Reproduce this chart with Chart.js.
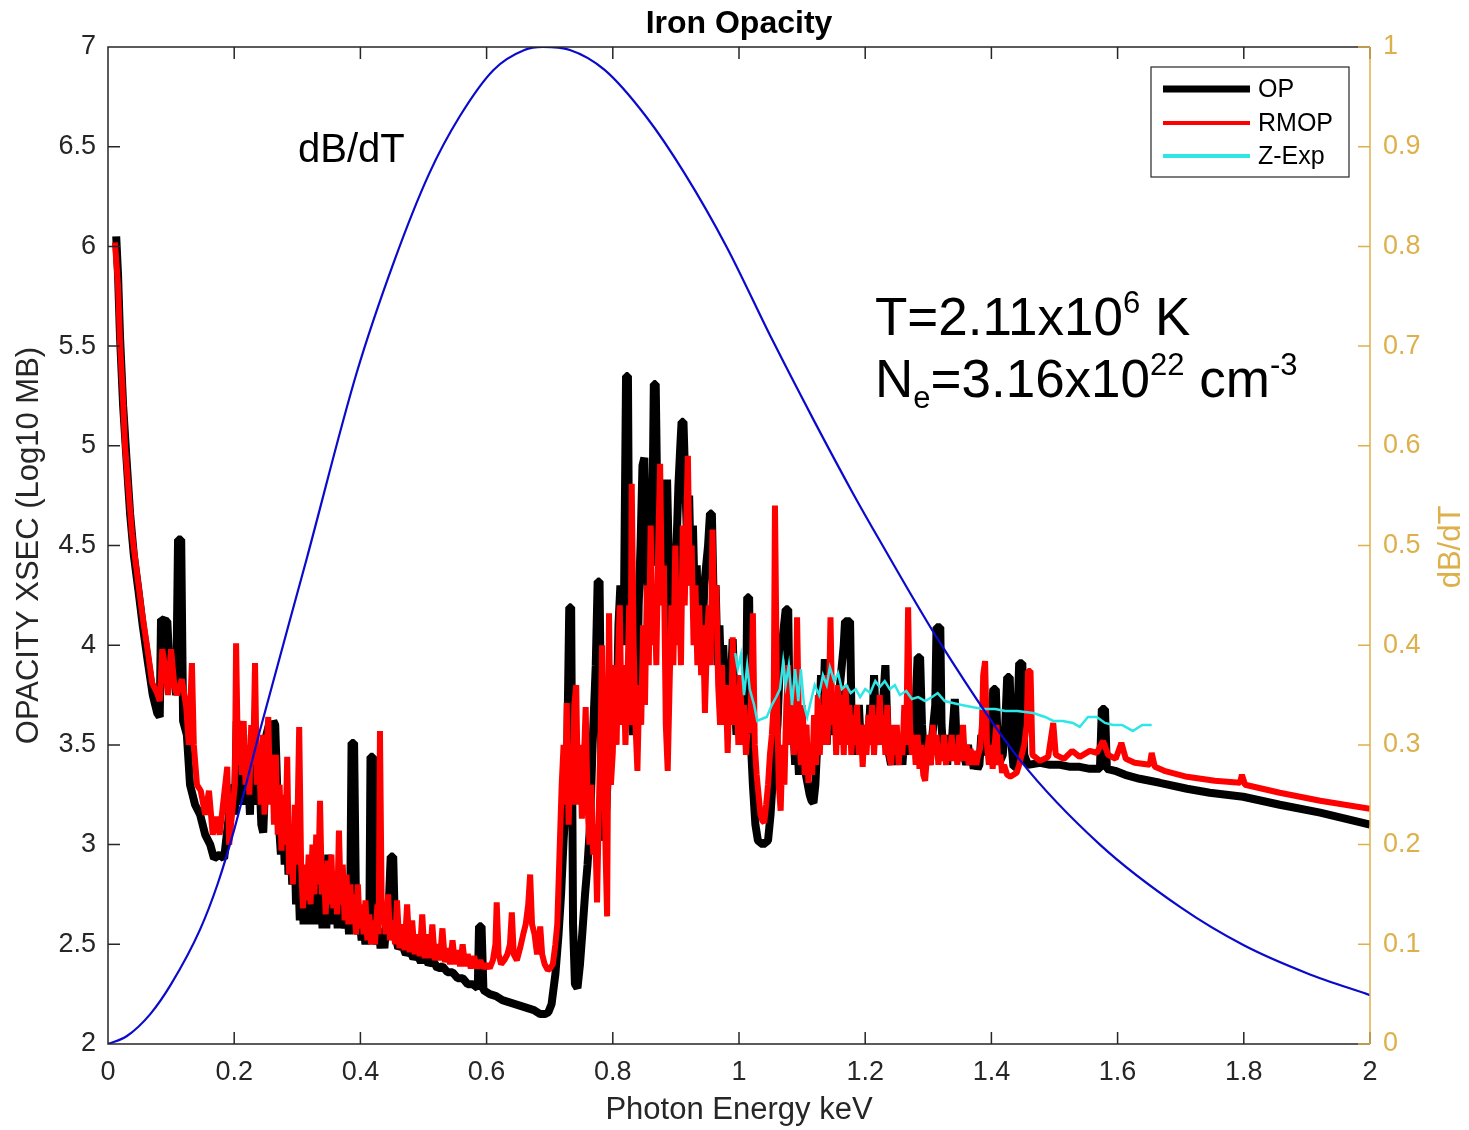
<!DOCTYPE html>
<html>
<head>
<meta charset="utf-8">
<script src="https://cdn.jsdelivr.net/npm/chart.js@4.4.1/dist/chart.umd.min.js"></script>
<style>
  html, body { margin: 0; padding: 0; background: #fff; }
  #wrap { width: 1469px; height: 1130px; position: relative; }
</style>
</head>
<body>
<div id="wrap"><canvas id="opacityChart"></canvas></div>
<script>
const FONT = '"Liberation Sans", Arial, Helvetica, sans-serif';
const GOLD = '#DDB04C';
const INK  = '#262626';

// [photon energy keV, log10 opacity]
const opData = [
  [0.013,6.05],[0.016,5.85],[0.019,5.55],[0.024,5.2],[0.029,4.95],[0.035,4.66],[0.041,4.45],[0.048,4.28],
  [0.055,4.10],[0.063,3.92],[0.071,3.75],[0.078,3.66],[0.082,3.64],[0.084,4.13],[0.094,4.12],[0.098,3.85],
  [0.103,3.90],[0.108,3.75],[0.111,4.53],[0.116,4.53],[0.119,3.62],[0.125,3.55],[0.130,3.30],[0.138,3.2],
  [0.146,3.15],[0.154,3.05],[0.162,3.0],[0.168,2.93],[0.177,2.95],[0.184,2.93],[0.190,3.1],[0.197,3.3],
  [0.201,3.15],[0.204,3.62],[0.207,3.3],[0.210,3.4],[0.213,3.2],[0.216,3.45],[0.219,3.2],[0.222,3.35],
  [0.225,3.15],[0.228,3.55],[0.231,3.3],[0.234,3.45],[0.237,3.2],[0.240,3.35],[0.243,3.1],[0.246,3.06],
  [0.249,3.3],[0.251,3.55],[0.255,3.6],[0.258,3.4],[0.262,3.62],[0.265,3.6],[0.268,3.3],[0.271,3.1],
  [0.274,2.95],[0.277,3.15],[0.280,2.9],[0.283,3.15],[0.286,2.85],[0.289,3.05],[0.292,2.8],[0.295,3.1],
  [0.298,2.7],[0.301,2.9],[0.304,2.62],[0.307,2.8],[0.310,2.6],[0.313,2.8],[0.316,2.6],[0.319,2.85],
  [0.322,2.6],[0.325,2.9],[0.328,2.62],[0.331,2.8],[0.334,2.6],[0.337,2.75],[0.340,2.58],[0.343,2.8],
  [0.346,2.58],[0.349,2.95],[0.352,2.65],[0.355,2.8],[0.358,2.6],[0.361,2.75],[0.364,2.58],[0.367,2.75],
  [0.370,2.6],[0.373,2.7],[0.376,2.58],[0.379,2.7],[0.382,2.55],[0.384,2.75],[0.386,3.51],[0.390,3.51],
  [0.393,2.7],[0.396,2.55],[0.399,2.62],[0.402,2.52],[0.405,2.6],[0.408,2.5],[0.411,2.58],[0.414,2.5],
  [0.416,3.44],[0.420,3.44],[0.423,2.6],[0.426,2.5],[0.429,2.58],[0.432,2.48],[0.435,2.55],[0.438,2.48],
  [0.441,2.6],[0.445,2.7],[0.448,2.94],[0.452,2.94],[0.455,2.55],[0.460,2.48],[0.466,2.5],[0.472,2.45],
  [0.478,2.47],[0.484,2.43],[0.490,2.45],[0.496,2.41],[0.502,2.45],[0.508,2.4],[0.515,2.42],[0.522,2.38],
  [0.530,2.39],[0.538,2.36],[0.546,2.36],[0.554,2.33],[0.562,2.33],[0.570,2.3],[0.578,2.3],[0.586,2.28],
  [0.588,2.59],[0.592,2.59],[0.595,2.27],[0.605,2.25],[0.615,2.24],[0.625,2.22],[0.635,2.21],[0.645,2.2],
  [0.655,2.19],[0.665,2.18],[0.675,2.17],[0.685,2.15],[0.692,2.15],[0.698,2.16],[0.703,2.2],[0.709,2.35],
  [0.714,2.55],[0.718,2.75],[0.722,3.02],[0.727,3.3],[0.731,4.19],[0.734,4.19],[0.737,2.6],[0.740,2.3],
  [0.744,2.28],[0.748,2.4],[0.752,2.57],[0.756,2.75],[0.760,2.9],[0.764,3.1],[0.768,3.5],[0.773,3.9],
  [0.776,4.32],[0.779,4.32],[0.782,3.4],[0.786,3.02],[0.790,3.2],[0.794,3.5],[0.797,3.85],[0.800,3.6],
  [0.803,3.85],[0.806,3.6],[0.809,4.1],[0.812,4.3],[0.815,4.0],[0.818,4.3],[0.821,5.35],[0.824,5.35],
  [0.826,4.3],[0.829,3.7],[0.832,3.55],[0.835,3.65],[0.838,3.55],[0.841,4.2],[0.844,4.5],[0.847,4.9],
  [0.850,4.94],[0.853,4.5],[0.856,4.2],[0.859,4.6],[0.862,4.4],[0.865,5.31],[0.868,5.31],[0.871,4.6],
  [0.874,4.4],[0.877,4.6],[0.880,4.3],[0.883,4.7],[0.886,4.83],[0.889,4.4],[0.892,4.0],[0.895,4.3],
  [0.898,4.1],[0.901,4.5],[0.904,4.8],[0.907,5.0],[0.909,5.12],[0.912,5.12],[0.915,4.8],[0.918,4.5],
  [0.921,4.75],[0.924,4.3],[0.927,4.6],[0.930,4.2],[0.933,4.4],[0.936,4.0],[0.939,4.3],[0.942,4.0],
  [0.945,4.3],[0.948,4.4],[0.951,4.5],[0.954,4.66],[0.957,4.66],[0.960,4.2],[0.963,4.3],[0.966,3.9],
  [0.969,4.1],[0.972,3.8],[0.975,4.0],[0.978,3.75],[0.981,3.9],[0.984,3.7],[0.987,3.8],[0.990,4.03],
  [0.993,3.75],[0.996,3.55],[0.999,3.7],[1.002,3.75],[1.005,3.55],[1.008,3.7],[1.011,3.6],[1.013,4.24],
  [1.016,4.24],[1.019,3.5],[1.022,3.3],[1.026,3.1],[1.030,3.02],[1.038,3.0],[1.046,3.02],[1.050,3.15],
  [1.054,3.35],[1.058,3.5],[1.061,3.6],[1.064,3.85],[1.068,4.0],[1.074,4.18],[1.078,4.18],[1.080,3.7],
  [1.083,3.5],[1.086,3.6],[1.089,3.4],[1.092,3.55],[1.095,3.35],[1.098,3.5],[1.100,3.45],[1.103,3.6],
  [1.106,3.35],[1.109,3.3],[1.112,3.25],[1.115,3.22],[1.118,3.21],[1.121,3.3],[1.124,3.5],[1.127,3.6],
  [1.130,3.85],[1.133,3.6],[1.136,3.93],[1.139,3.5],[1.142,3.75],[1.145,3.6],[1.148,3.75],[1.151,3.55],
  [1.154,3.7],[1.157,3.5],[1.160,3.8],[1.163,3.9],[1.166,4.0],[1.168,4.12],[1.176,4.12],[1.178,3.7],
  [1.181,3.5],[1.184,3.6],[1.187,3.45],[1.190,3.7],[1.193,3.5],[1.196,3.6],[1.199,3.45],[1.202,3.6],
  [1.205,3.5],[1.208,3.7],[1.211,3.5],[1.214,3.85],[1.217,3.6],[1.220,3.5],[1.223,3.7],[1.226,3.5],
  [1.229,3.75],[1.232,3.9],[1.235,3.6],[1.238,3.45],[1.241,3.4],[1.244,3.5],[1.247,3.4],[1.250,3.55],
  [1.253,3.45],[1.256,3.5],[1.259,3.4],[1.262,3.55],[1.265,3.45],[1.268,3.62],[1.271,3.5],[1.274,3.6],
  [1.277,3.45],[1.280,3.7],[1.283,3.94],[1.287,3.94],[1.290,3.6],[1.293,3.45],[1.296,3.4],[1.299,3.45],
  [1.302,3.4],[1.305,3.5],[1.308,3.6],[1.311,3.7],[1.313,4.09],[1.319,4.09],[1.321,3.6],[1.324,3.45],
  [1.327,3.5],[1.330,3.4],[1.333,3.55],[1.336,3.45],[1.339,3.6],[1.342,3.73],[1.345,3.5],[1.348,3.45],
  [1.351,3.5],[1.354,3.42],[1.357,3.45],[1.360,3.4],[1.363,3.5],[1.366,3.4],[1.369,3.45],[1.372,3.38],
  [1.375,3.42],[1.378,3.38],[1.381,3.4],[1.384,3.55],[1.387,3.5],[1.390,3.45],[1.395,3.5],[1.400,3.6],
  [1.403,3.78],[1.407,3.78],[1.410,3.5],[1.414,3.42],[1.418,3.45],[1.422,3.6],[1.425,3.84],[1.429,3.84],
  [1.432,3.5],[1.435,3.39],[1.438,3.39],[1.441,3.6],[1.444,3.91],[1.449,3.91],[1.452,3.45],[1.458,3.4],
  [1.477,3.41],[1.493,3.4],[1.509,3.4],[1.525,3.39],[1.540,3.39],[1.556,3.38],[1.572,3.38],[1.575,3.68],
  [1.580,3.68],[1.583,3.38],[1.596,3.37],[1.612,3.35],[1.635,3.33],[1.667,3.31],[1.710,3.28],[1.746,3.26],
  [1.799,3.24],[1.857,3.20],[1.921,3.16],[2.0,3.10]
];

const rmopData = [
  [0.011,6.02],[0.016,5.8],[0.019,5.52],[0.024,5.22],[0.027,5.0],[0.032,4.8],[0.038,4.56],[0.048,4.31],
  [0.055,4.14],[0.063,3.97],[0.070,3.81],[0.078,3.76],[0.082,3.72],[0.086,3.98],[0.090,3.9],[0.095,3.75],
  [0.100,3.98],[0.105,3.8],[0.109,3.75],[0.117,3.83],[0.124,3.69],[0.128,3.5],[0.133,3.91],[0.136,3.5],
  [0.141,3.3],[0.147,3.27],[0.154,3.15],[0.160,3.27],[0.166,3.05],[0.171,3.14],[0.177,3.05],[0.184,3.25],
  [0.189,3.39],[0.192,3.0],[0.198,3.2],[0.201,3.3],[0.203,4.01],[0.206,3.4],[0.209,3.6],[0.212,3.35],
  [0.215,3.62],[0.218,3.3],[0.221,3.5],[0.224,3.25],[0.227,3.6],[0.230,3.4],[0.233,3.91],[0.236,3.3],
  [0.239,3.5],[0.242,3.2],[0.245,3.55],[0.248,3.15],[0.251,3.45],[0.254,3.64],[0.257,3.2],[0.260,3.45],
  [0.263,3.1],[0.266,3.45],[0.269,3.05],[0.272,3.3],[0.275,2.97],[0.278,3.25],[0.281,3.0],[0.284,3.44],
  [0.287,2.85],[0.290,3.1],[0.293,2.8],[0.296,3.2],[0.299,2.9],[0.303,3.59],[0.306,2.9],[0.309,2.68],
  [0.312,2.9],[0.315,2.72],[0.318,2.95],[0.321,2.7],[0.324,3.0],[0.327,2.75],[0.330,3.05],[0.333,2.8],
  [0.336,3.22],[0.339,2.75],[0.342,2.9],[0.345,2.65],[0.348,2.92],[0.351,2.7],[0.354,2.95],[0.357,2.68],
  [0.360,2.85],[0.363,2.65],[0.366,3.07],[0.369,2.7],[0.372,2.9],[0.375,2.62],[0.378,2.85],[0.381,2.6],
  [0.384,2.8],[0.387,2.6],[0.390,2.75],[0.393,2.55],[0.396,2.8],[0.399,2.58],[0.402,2.7],[0.405,2.55],
  [0.408,2.72],[0.411,2.52],[0.414,2.65],[0.417,2.5],[0.420,2.62],[0.423,2.5],[0.427,2.7],[0.429,2.55],
  [0.431,3.57],[0.434,2.6],[0.437,2.7],[0.440,2.55],[0.444,2.75],[0.447,2.52],[0.451,2.62],[0.455,2.5],
  [0.458,2.72],[0.462,2.48],[0.466,2.6],[0.470,2.47],[0.474,2.7],[0.478,2.46],[0.482,2.62],[0.486,2.45],
  [0.490,2.55],[0.494,2.44],[0.498,2.65],[0.502,2.43],[0.506,2.55],[0.510,2.43],[0.514,2.6],[0.518,2.42],
  [0.522,2.5],[0.526,2.42],[0.530,2.58],[0.534,2.41],[0.538,2.48],[0.542,2.4],[0.546,2.52],[0.550,2.4],
  [0.554,2.47],[0.558,2.39],[0.562,2.5],[0.566,2.39],[0.570,2.45],[0.575,2.38],[0.580,2.44],[0.585,2.38],
  [0.590,2.42],[0.595,2.38],[0.600,2.4],[0.605,2.38],[0.610,2.42],[0.614,2.5],[0.616,2.71],[0.619,2.45],
  [0.623,2.4],[0.628,2.42],[0.633,2.45],[0.637,2.5],[0.640,2.66],[0.643,2.45],[0.648,2.42],[0.653,2.48],
  [0.658,2.55],[0.662,2.6],[0.666,2.7],[0.669,2.85],[0.672,2.6],[0.676,2.55],[0.680,2.45],[0.683,2.5],
  [0.685,2.59],[0.688,2.45],[0.692,2.4],[0.697,2.37],[0.701,2.38],[0.705,2.4],[0.709,2.5],[0.712,2.6],
  [0.716,3.0],[0.719,3.3],[0.722,3.5],[0.725,3.2],[0.727,3.71],[0.730,3.1],[0.733,3.5],[0.736,3.2],
  [0.739,3.7],[0.742,3.8],[0.745,3.2],[0.748,3.5],[0.751,3.13],[0.754,3.4],[0.757,3.69],[0.760,3.2],
  [0.763,3.0],[0.766,3.3],[0.769,2.95],[0.772,3.1],[0.775,2.71],[0.778,3.2],[0.781,3.6],[0.783,4.0],
  [0.786,3.4],[0.789,2.9],[0.791,2.64],[0.794,4.16],[0.797,3.3],[0.800,3.46],[0.803,3.9],[0.806,3.5],
  [0.809,4.0],[0.811,4.2],[0.814,3.6],[0.817,3.9],[0.820,3.5],[0.823,3.8],[0.826,4.2],[0.828,3.6],
  [0.830,4.81],[0.833,4.0],[0.836,3.6],[0.839,3.37],[0.842,3.8],[0.845,3.6],[0.848,4.1],[0.851,3.7],
  [0.854,4.3],[0.857,3.9],[0.860,4.6],[0.863,4.0],[0.866,4.3],[0.869,3.9],[0.872,4.5],[0.875,4.91],
  [0.878,4.2],[0.881,4.4],[0.884,3.6],[0.887,3.37],[0.890,3.8],[0.893,4.2],[0.896,3.9],[0.899,4.5],
  [0.902,4.0],[0.905,4.3],[0.908,3.9],[0.911,4.6],[0.914,4.2],[0.917,4.7],[0.919,4.95],[0.922,4.3],
  [0.925,4.5],[0.928,4.0],[0.931,4.3],[0.934,3.9],[0.937,4.2],[0.940,3.85],[0.943,4.1],[0.946,3.66],
  [0.949,4.0],[0.952,4.2],[0.955,3.9],[0.958,4.58],[0.961,4.1],[0.964,4.3],[0.967,3.8],[0.970,3.6],
  [0.973,3.9],[0.976,3.6],[0.979,3.8],[0.982,3.46],[0.985,3.8],[0.988,3.6],[0.990,4.04],[0.993,3.6],
  [0.996,3.8],[0.999,3.5],[1.002,3.85],[1.005,3.5],[1.008,3.7],[1.011,3.45],[1.014,3.6],[1.017,3.56],
  [1.020,3.8],[1.022,4.16],[1.025,3.5],[1.028,3.35],[1.031,3.25],[1.034,3.15],[1.037,3.12],[1.040,3.11],
  [1.043,3.2],[1.046,3.3],[1.049,3.45],[1.052,3.55],[1.055,3.7],[1.057,4.70],[1.060,3.8],[1.063,3.3],
  [1.066,3.17],[1.069,3.5],[1.072,3.3],[1.075,3.7],[1.078,3.9],[1.081,3.5],[1.084,3.8],[1.087,3.45],
  [1.090,3.7],[1.092,4.14],[1.095,3.6],[1.098,3.4],[1.101,3.7],[1.104,3.35],[1.107,3.6],[1.110,3.31],
  [1.113,3.5],[1.116,3.35],[1.119,3.65],[1.122,3.4],[1.125,3.75],[1.128,3.45],[1.131,3.7],[1.134,3.5],
  [1.137,3.85],[1.140,3.5],[1.143,3.8],[1.145,4.14],[1.148,3.6],[1.151,3.75],[1.154,3.45],[1.157,3.8],
  [1.160,3.5],[1.163,3.75],[1.166,3.45],[1.169,3.8],[1.172,3.5],[1.175,3.7],[1.178,3.45],[1.181,3.65],
  [1.184,3.5],[1.187,3.7],[1.190,3.45],[1.193,3.6],[1.196,3.39],[1.199,3.6],[1.202,3.45],[1.205,3.65],
  [1.208,3.5],[1.211,3.7],[1.214,3.45],[1.217,3.65],[1.220,3.5],[1.223,3.75],[1.226,3.5],[1.229,3.65],
  [1.232,3.45],[1.235,3.7],[1.238,3.45],[1.241,3.4],[1.244,3.6],[1.247,3.45],[1.250,3.6],[1.253,3.4],
  [1.256,3.55],[1.259,3.45],[1.262,3.7],[1.265,3.5],[1.268,4.19],[1.271,3.6],[1.274,3.45],[1.277,3.55],
  [1.280,3.4],[1.283,3.55],[1.286,3.38],[1.289,3.5],[1.292,3.35],[1.295,3.32],[1.298,3.45],[1.301,3.55],
  [1.304,3.4],[1.307,3.6],[1.310,3.45],[1.313,3.55],[1.316,3.4],[1.319,3.5],[1.322,3.42],[1.325,3.55],
  [1.328,3.4],[1.331,3.5],[1.334,3.42],[1.337,3.55],[1.340,3.42],[1.343,3.5],[1.346,3.4],[1.349,3.55],
  [1.352,3.42],[1.355,3.6],[1.358,3.42],[1.361,3.5],[1.364,3.4],[1.367,3.48],[1.370,3.4],[1.373,3.47],
  [1.376,3.4],[1.379,3.45],[1.382,3.48],[1.385,3.6],[1.387,3.85],[1.390,3.92],[1.393,3.5],[1.396,3.4],
  [1.399,3.5],[1.402,3.38],[1.405,3.5],[1.408,3.6],[1.411,3.4],[1.414,3.45],[1.417,3.36],[1.420,3.4],
  [1.425,3.35],[1.430,3.34],[1.435,3.35],[1.440,3.36],[1.444,3.4],[1.448,3.45],[1.452,3.5],[1.456,3.6],
  [1.458,3.87],[1.462,3.87],[1.465,3.45],[1.477,3.42],[1.490,3.44],[1.498,3.61],[1.502,3.45],[1.515,3.43],
  [1.528,3.47],[1.540,3.44],[1.556,3.47],[1.567,3.46],[1.577,3.52],[1.585,3.45],[1.597,3.43],[1.606,3.51],
  [1.613,3.43],[1.627,3.41],[1.651,3.40],[1.654,3.46],[1.659,3.39],[1.674,3.37],[1.710,3.34],[1.754,3.32],
  [1.794,3.31],[1.797,3.35],[1.802,3.30],[1.857,3.26],[1.921,3.22],[2.0,3.18]
];

const zexpData = [
  [0.994,3.96],[0.998,3.88],[1.003,3.95],[1.008,3.75],[1.013,3.9],[1.017,3.78],[1.024,3.7],[1.029,3.62],
  [1.036,3.63],[1.044,3.64],[1.052,3.7],[1.059,3.74],[1.065,3.78],[1.070,3.92],[1.074,3.8],[1.079,3.9],
  [1.084,3.7],[1.089,3.88],[1.094,3.72],[1.098,3.88],[1.103,3.7],[1.108,3.64],[1.114,3.72],[1.120,3.8],
  [1.127,3.75],[1.133,3.85],[1.139,3.8],[1.144,3.89],[1.151,3.82],[1.157,3.86],[1.163,3.78],[1.170,3.8],
  [1.177,3.76],[1.185,3.78],[1.192,3.74],[1.200,3.78],[1.208,3.76],[1.216,3.82],[1.223,3.79],[1.231,3.82],
  [1.239,3.78],[1.247,3.8],[1.255,3.75],[1.265,3.77],[1.274,3.73],[1.284,3.74],[1.295,3.72],[1.306,3.74],
  [1.315,3.76],[1.326,3.72],[1.339,3.71],[1.353,3.7],[1.369,3.69],[1.387,3.68],[1.406,3.68],[1.422,3.67],
  [1.441,3.67],[1.466,3.66],[1.485,3.64],[1.498,3.62],[1.513,3.62],[1.529,3.61],[1.540,3.59],[1.553,3.64],
  [1.567,3.64],[1.580,3.61],[1.593,3.6],[1.607,3.6],[1.624,3.57],[1.639,3.6],[1.654,3.6]
];

// [photon energy keV, dB/dT normalised] on the right axis
const dbdtData = [
  [0,0],[0.03,0.008],[0.067,0.03],[0.1,0.06],[0.146,0.115],[0.174,0.161],[0.2,0.215],[0.241,0.315],
  [0.315,0.487],[0.394,0.673],[0.454,0.786],[0.509,0.873],[0.557,0.93],[0.611,0.977],[0.66,0.997],
  [0.689,1.0],[0.732,0.997],[0.787,0.977],[0.853,0.93],[0.914,0.873],[0.98,0.8],[1.053,0.706],
  [1.119,0.625],[1.18,0.553],[1.223,0.505],[1.319,0.402],[1.445,0.285],[1.572,0.2],[1.7,0.137],
  [1.8,0.099],[1.9,0.071],[2.0,0.049]
];

const xTicks  = [0, 0.2, 0.4, 0.6, 0.8, 1, 1.2, 1.4, 1.6, 1.8, 2];
const yTicks  = [2, 2.5, 3, 3.5, 4, 4.5, 5, 5.5, 6, 6.5, 7];
const y2Ticks = [0, 0.1, 0.2, 0.3, 0.4, 0.5, 0.6, 0.7, 0.8, 0.9, 1];

const pts = rows => rows.map(([x, y]) => ({ x, y }));
const TICK = 12;

Chart.defaults.font.family = FONT;

// box and inward ticks, MATLAB style
const frame = {
  id: 'frame',
  afterDatasetsDraw(chart) {
    const { ctx, chartArea: a, scales } = chart;
    ctx.save();
    ctx.lineWidth = 1.5;
    ctx.strokeStyle = INK;
    ctx.beginPath();
    ctx.moveTo(a.right, a.top); ctx.lineTo(a.left, a.top);
    ctx.lineTo(a.left, a.bottom); ctx.lineTo(a.right, a.bottom);
    xTicks.forEach(v => {
      const px = scales.x.getPixelForValue(v);
      ctx.moveTo(px, a.bottom); ctx.lineTo(px, a.bottom - TICK);
      ctx.moveTo(px, a.top);    ctx.lineTo(px, a.top + TICK);
    });
    yTicks.forEach(v => {
      const py = scales.y.getPixelForValue(v);
      ctx.moveTo(a.left, py); ctx.lineTo(a.left + TICK, py);
    });
    ctx.stroke();

    ctx.strokeStyle = GOLD;
    ctx.beginPath();
    ctx.moveTo(a.right, a.top); ctx.lineTo(a.right, a.bottom);
    y2Ticks.forEach(v => {
      const py = scales.y2.getPixelForValue(v);
      ctx.moveTo(a.right, py); ctx.lineTo(a.right - TICK, py);
    });
    ctx.stroke();
    ctx.restore();
  }
};

function rich(ctx, x, y, parts) {
  parts.forEach(([t, size, dy]) => {
    ctx.font = `${size}px ${FONT}`;
    ctx.fillText(t, x, y + dy);
    x += ctx.measureText(t).width;
  });
}

// title, right axis label, text notes and legend box
const notes = {
  id: 'notes',
  afterDraw(chart) {
    const { ctx, chartArea: a } = chart;
    ctx.save();
    ctx.fillStyle = '#000';
    ctx.textAlign = 'center';
    ctx.textBaseline = 'middle';
    ctx.font = `bold 32px ${FONT}`;
    ctx.fillText('Iron Opacity', (a.left + a.right) / 2, 24);

    ctx.save();
    ctx.translate(1451, 547);
    ctx.rotate(-Math.PI / 2);
    ctx.fillStyle = GOLD;
    ctx.font = `31px ${FONT}`;
    ctx.fillText('dB/dT', 0, 0);
    ctx.restore();

    ctx.textAlign = 'left';
    ctx.textBaseline = 'alphabetic';
    ctx.font = `40px ${FONT}`;
    ctx.fillText('dB/dT', 298, 162);
    rich(ctx, 875, 335, [['T=2.11x10', 53, 0], ['6', 31, -22], [' K', 53, 0]]);
    rich(ctx, 875, 397, [['N', 53, 0], ['e', 31, 11], ['=3.16x10', 53, 0], ['22', 31, -22],
      [' cm', 53, 0], ['-3', 31, -22]]);

    // legend
    const lx = 1151, ly = 67, lw = 198, lh = 110;
    ctx.fillStyle = '#fff';
    ctx.fillRect(lx, ly, lw, lh);
    ctx.strokeStyle = INK;
    ctx.lineWidth = 1.2;
    ctx.strokeRect(lx, ly, lw, lh);
    const rows = [[3, 89, 7], [2, 123, 4], [1, 156, 4]];
    ctx.textBaseline = 'middle';
    ctx.font = `25px ${FONT}`;
    rows.forEach(([i, y, w]) => {
      const ds = chart.data.datasets[i];
      ctx.strokeStyle = ds.borderColor;
      ctx.lineWidth = w;
      ctx.beginPath();
      ctx.moveTo(1163, y); ctx.lineTo(1250, y);
      ctx.stroke();
      ctx.fillStyle = '#000';
      ctx.fillText(ds.label, 1258, y + 1);
    });
    ctx.restore();
  }
};

const tickFont = { size: 27 };

new Chart(document.getElementById('opacityChart'), {
  type: 'line',
  data: {
    datasets: [
      { label: 'dB/dT', data: pts(dbdtData), yAxisID: 'y2', order: 0,
        borderColor: '#0A0ACC', borderWidth: 2.2, cubicInterpolationMode: 'monotone', tension: 0.4 },
      { label: 'Z-Exp', data: pts(zexpData), yAxisID: 'y', order: 1,
        borderColor: '#2EE6E6', borderWidth: 2.5 },
      { label: 'RMOP', data: pts(rmopData), yAxisID: 'y', order: 2,
        borderColor: '#FF0000', borderWidth: 6, borderJoinStyle: 'bevel' },
      { label: 'OP', data: pts(opData), yAxisID: 'y', order: 3,
        borderColor: '#000000', borderWidth: 8, borderJoinStyle: 'bevel' }
    ]
  },
  options: {
    responsive: true,
    maintainAspectRatio: false,
    animation: false,
    layout: { padding: { top: 47, left: 0, right: 0, bottom: 0 } },
    elements: { point: { radius: 0 }, line: { borderCapStyle: 'butt' } },
    plugins: { legend: { display: false }, tooltip: { enabled: false }, title: { display: false } },
    scales: {
      x: {
        type: 'linear', min: 0, max: 2,
        afterBuildTicks: s => { s.ticks = xTicks.map(v => ({ value: v })); },
        afterFit: s => { s.height = 86; },
        ticks: { font: tickFont, color: INK, padding: 12, maxRotation: 0, callback: v => String(v) },
        grid: { display: false, drawTicks: false },
        border: { display: false },
        title: { display: true, text: 'Photon Energy keV', color: INK, font: { size: 31 }, padding: { top: 0, bottom: 1 } }
      },
      y: {
        type: 'linear', position: 'left', min: 2, max: 7,
        afterBuildTicks: s => { s.ticks = yTicks.map(v => ({ value: v })); },
        afterFit: s => { s.width = 108; },
        ticks: { font: tickFont, color: INK, padding: 12, callback: v => String(v) },
        grid: { display: false, drawTicks: false },
        border: { display: false },
        title: { display: true, text: 'OPACITY XSEC (Log10 MB)', color: INK, font: { size: 31 }, padding: { top: 11, bottom: 0 } }
      },
      y2: {
        type: 'linear', position: 'right', min: 0, max: 1,
        afterBuildTicks: s => { s.ticks = y2Ticks.map(v => ({ value: v })); },
        afterFit: s => { s.width = 99; },
        ticks: { font: tickFont, color: GOLD, padding: 13, callback: v => String(v) },
        grid: { display: false, drawTicks: false },
        border: { display: false },
        title: { display: false }
      }
    }
  },
  plugins: [frame, notes]
});
</script>
</body>
</html>
